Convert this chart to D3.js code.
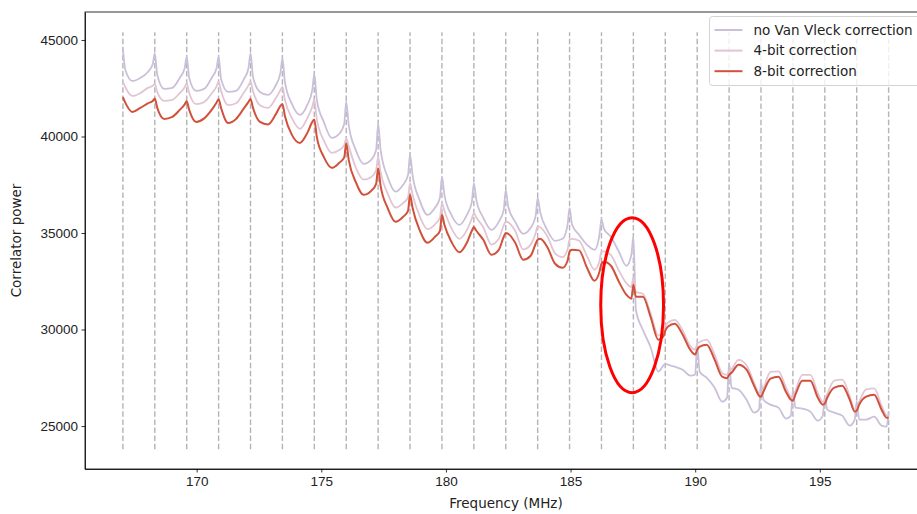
<!DOCTYPE html>
<html>
<head>
<meta charset="utf-8">
<title>Correlator power vs frequency</title>
<script src="https://cdn.jsdelivr.net/npm/d3@7"></script>
<style>
  body { margin: 0; background: #fff; }
  svg { display: block; font-family: 'DejaVu Sans', sans-serif; }
  .axis text { font-size: 13.5px; fill: #222; }
  .axis path, .axis line { stroke: #000; stroke-width: 0.8px; }
</style>
</head>
<body>
<svg id="chart" width="917" height="514"></svg>
<script>
// coarse channel edges (MHz)
const channelEdges = [167.04, 168.32, 169.60, 170.88, 172.16, 173.44, 174.72, 176.00,
  177.28, 178.56, 179.84, 181.12, 182.40, 183.68, 184.96, 186.24, 187.52, 188.80,
  190.08, 191.36, 192.64, 193.92, 195.20, 196.48, 197.76];

const xTicks = [170, 175, 180, 185, 190, 195];
const yTicks = [25000, 30000, 35000, 40000, 45000];

// sample frequencies, one row per coarse channel
const freqs = [
  167.04, 167.14, 167.42, 167.74, 168.04, 168.24,
  168.32, 168.42, 168.70, 169.02, 169.32, 169.52,
  169.60, 169.70, 169.98, 170.30, 170.60, 170.80,
  170.88, 170.98, 171.26, 171.58, 171.88, 172.08,
  172.16, 172.26, 172.54, 172.86, 173.16, 173.36,
  173.44, 173.54, 173.82, 174.14, 174.44, 174.64,
  174.72, 174.82, 175.10, 175.42, 175.72, 175.92,
  176.00, 176.10, 176.38, 176.70, 177.00, 177.20,
  177.28, 177.38, 177.66, 177.98, 178.28, 178.48,
  178.56, 178.66, 178.94, 179.26, 179.56, 179.76,
  179.84, 179.94, 180.22, 180.54, 180.84, 181.04,
  181.12, 181.22, 181.50, 181.82, 182.12, 182.32,
  182.40, 182.50, 182.78, 183.10, 183.40, 183.60,
  183.68, 183.78, 184.06, 184.38, 184.68, 184.88,
  184.96, 185.06, 185.34, 185.66, 185.96, 186.16,
  186.24, 186.34, 186.62, 186.94, 187.24, 187.44,
  187.52, 187.62, 187.90, 188.22, 188.52, 188.72,
  188.80, 188.90, 189.18, 189.50, 189.80, 190.00,
  190.08, 190.18, 190.46, 190.78, 191.08, 191.28,
  191.36, 191.46, 191.74, 192.06, 192.36, 192.56,
  192.64, 192.74, 193.02, 193.34, 193.64, 193.84,
  193.92, 194.02, 194.30, 194.62, 194.92, 195.12,
  195.20, 195.30, 195.58, 195.90, 196.20, 196.40,
  196.48, 196.58, 196.86, 197.18, 197.48, 197.68,
  197.76
];

const noVanVleck = [
  44570, 43447, 42878, 43033, 43344, 43758,
  44312, 43188, 42464, 42515, 43033, 43550,
  44136, 43033, 42360, 42464, 43033, 43550,
  44136, 42981, 42308, 42360, 42930, 43550,
  44312, 43085, 42308, 42153, 42619, 43292,
  44053, 42826, 41687, 41118, 41636, 42412,
  43240, 41894, 40756, 39928, 40135, 40652,
  41807, 40600, 39306, 38582, 38789, 39306,
  40652, 39306, 37909, 37148, 37495, 38012,
  39048, 38012, 36718, 35942, 36304, 36822,
  37924, 36977, 35942, 35424, 35942, 36615,
  37583, 36718, 35787, 35166, 35580, 36201,
  37236, 36356, 35580, 34959, 35269, 35890,
  36807, 36097, 35166, 34596, 34700, 35424,
  36289, 35424, 34907, 34389, 34130, 34907,
  35720, 35217, 34803, 34027, 33302, 33872,
  34819, 31025, 29990, 29058, 27816, 28126,
  28230, 28178, 28075, 27920, 27609, 27661,
  29213, 27816, 27506, 26988, 26263, 26470,
  28264, 26988, 26884, 26366, 25693, 25849,
  27316, 26366, 26108, 25953, 25383, 25538,
  26884, 25953, 25901, 25745, 25279, 25538,
  26536, 25849, 25693, 25538, 25020, 25331,
  26280, 25331, 25331, 25486, 25020, 24968,
  25745
];

const fourBit = [
  42842, 42550, 42100, 42250, 42520, 42630,
  42720, 42300, 41850, 41900, 42250, 42550,
  42760, 42250, 41680, 41780, 42230, 42600,
  42840, 42350, 41620, 41720, 42250, 42650,
  42840, 42350, 41620, 41480, 41950, 42400,
  42580, 41900, 40950, 40400, 40950, 41550,
  41894, 40900, 39800, 39150, 39300, 39550,
  39900, 39500, 38400, 37760, 37900, 38250,
  38960, 38150, 37050, 36320, 36550, 36850,
  37583, 37000, 35900, 35200, 35450, 35800,
  36547, 36150, 35250, 34700, 35150, 35750,
  36030, 35800, 35300, 34400, 34700, 35400,
  35597, 35550, 35100, 34150, 34400, 35000,
  35339, 35300, 34850, 33950, 33750, 34150,
  34648, 34700, 34600, 33800, 33100, 33550,
  34043, 34050, 33850, 33050, 32400, 32200,
  32700, 31950, 31850, 30800, 29700, 29800,
  30150, 30350, 30500, 29950, 29150, 28950,
  29250, 29350, 29480, 28700, 27750, 27650,
  27850, 27950, 28430, 28150, 27250, 26700,
  26650, 26950, 27800, 27830, 27000, 26500,
  26450, 26800, 27650, 27650, 26700, 26250,
  26300, 26650, 27350, 27400, 26550, 25850,
  25900, 26250, 26900, 26950, 26050, 25550,
  25550
];

const eightBit = [
  42034, 41739, 41273, 41480, 41713, 41843,
  41962, 41480, 40911, 41015, 41377, 41662,
  41827, 41377, 40756, 40937, 41377, 41765,
  41931, 41480, 40704, 40911, 41429, 41791,
  41946, 41480, 40756, 40626, 41118, 41584,
  41687, 41066, 40083, 39669, 40186, 40756,
  40885, 39979, 38944, 38375, 38634, 38919,
  39653, 38789, 37650, 36977, 37185, 37547,
  38359, 37443, 36304, 35580, 35838, 36149,
  36977, 36304, 35166, 34493, 34803, 35114,
  35942, 35424, 34544, 34001, 34493, 35114,
  35305, 35114, 34648, 33872, 34130, 34803,
  34995, 34958, 34493, 33613, 33820, 34441,
  34648, 34700, 34286, 33406, 33199, 33562,
  34027, 34130, 34100, 33199, 32526, 32992,
  33406, 33510, 33302, 32474, 31801, 31595,
  32319, 31700, 31698, 30611, 29472, 29628,
  29938, 30145, 30300, 29731, 28954, 28700,
  28950, 29110, 29213, 28437, 27557, 27480,
  27650, 27764, 28178, 27920, 27092, 26573,
  26522, 26781, 27454, 27557, 26781, 26366,
  26315, 26625, 27350, 27350, 26470, 26108,
  26160, 26470, 26988, 27092, 26366, 25745,
  25797, 26108, 26522, 26625, 25849, 25434,
  25434
];

const seriesNames = ['no Van Vleck correction', '4-bit correction', '8-bit correction'];
const seriesColors = ['#cbc0d9', '#e2c5d4', '#d1513a'];
const seriesValues = [noVanVleck, fourBit, eightBit];

// red ellipse annotation (centre freq, centre power, half widths)
const ring = { freq: 187.47, power: 31260, dFreq: 1.26, dPower: 4530 };

const svg = d3.select('#chart');
const margin = { top: 12, right: 927, bottom: 469, left: 85 };

const x = d3.scaleLinear().domain([165.52, 199.3]).range([margin.left, margin.right]);
const y = d3.scaleLinear().domain([22774, 46449]).range([margin.bottom, margin.top]);

// channel edge markers
svg.append('g')
  .selectAll('line')
  .data(channelEdges)
  .join('line')
  .attr('x1', (d) => x(d))
  .attr('x2', (d) => x(d))
  .attr('y1', y(23800))
  .attr('y2', y(45400))
  .attr('stroke', '#b4b4b8')
  .attr('stroke-width', 1.4)
  .attr('stroke-dasharray', '5.5,2.6');

const line = d3.line()
  .x((d) => x(d[0]))
  .y((d) => y(d[1]))
  .curve(d3.curveMonotoneX);

seriesValues.forEach((vals, i) => {
  svg.append('path')
    .datum(freqs.map((f, j) => [f, vals[j]]))
    .attr('fill', 'none')
    .attr('stroke', seriesColors[i])
    .attr('stroke-width', i === 2 ? 2 : 1.8)
    .attr('stroke-linejoin', 'round')
    .attr('d', line);
});

// axes
svg.append('g')
  .attr('class', 'axis')
  .attr('transform', `translate(0,${margin.bottom})`)
  .call(d3.axisBottom(x).tickValues(xTicks).tickSize(3.5).tickPadding(3.5).tickSizeOuter(0));

svg.append('g')
  .attr('class', 'axis')
  .attr('transform', `translate(${margin.left},0)`)
  .call(d3.axisLeft(y).tickValues(yTicks).tickFormat(d3.format('d'))
    .tickSize(3.5).tickPadding(3.5).tickSizeOuter(0));

// frame
svg.append('rect')
  .attr('x', margin.left)
  .attr('y', margin.top)
  .attr('width', margin.right - margin.left)
  .attr('height', margin.bottom - margin.top)
  .attr('fill', 'none')
  .attr('stroke', '#000')
  .attr('stroke-width', 0.8);

svg.append('text')
  .attr('x', (margin.left + margin.right) / 2)
  .attr('y', 508)
  .attr('text-anchor', 'middle')
  .attr('font-size', 13.5)
  .attr('fill', '#222')
  .text('Frequency (MHz)');

svg.append('text')
  .attr('transform', `translate(21,${(margin.top + margin.bottom) / 2}) rotate(-90)`)
  .attr('text-anchor', 'middle')
  .attr('font-size', 13.5)
  .attr('fill', '#222')
  .text('Correlator power');

// annotation
svg.append('ellipse')
  .attr('cx', x(ring.freq))
  .attr('cy', y(ring.power))
  .attr('rx', x(ring.freq + ring.dFreq) - x(ring.freq))
  .attr('ry', y(ring.power - ring.dPower) - y(ring.power))
  .attr('fill', 'none')
  .attr('stroke', '#ff0000')
  .attr('stroke-width', 3);

// legend
const legend = svg.append('g').attr('transform', 'translate(709.5,16.5)');
legend.append('rect')
  .attr('width', 216)
  .attr('height', 69)
  .attr('rx', 3)
  .attr('fill', '#fff')
  .attr('fill-opacity', 0.8)
  .attr('stroke', '#d3d3d3');

const rows = legend.selectAll('g.row')
  .data(seriesNames)
  .join('g')
  .attr('class', 'row')
  .attr('transform', (d, i) => `translate(0,${13.5 + i * 20.6})`);

rows.append('line')
  .attr('x1', 5)
  .attr('x2', 33)
  .attr('stroke', (d, i) => seriesColors[i])
  .attr('stroke-width', 2);

rows.append('text')
  .attr('x', 44)
  .attr('dy', '0.35em')
  .attr('font-size', 13.5)
  .attr('fill', '#222')
  .text((d) => d);
</script>
</body>
</html>
